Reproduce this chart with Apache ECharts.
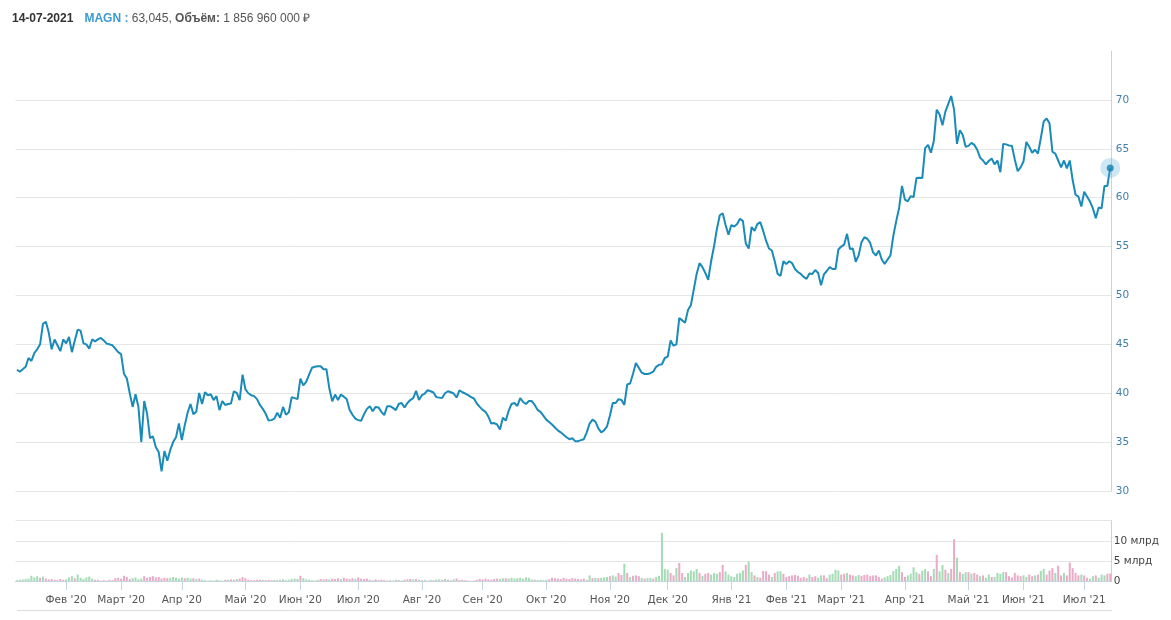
<!DOCTYPE html>
<html><head><meta charset="utf-8">
<script src="https://cdn.jsdelivr.net/npm/echarts@6/dist/echarts.min.js"></script>
<style>html,body{margin:0;padding:0;background:#fff}#c{width:1171px;height:620px}</style>
</head><body><div id="c"></div>
<script>
// ---------- data ----------
const headerDate = '14-07-2021';
const ticker = 'MAGN';
const volumeWord = 'Объём:';
const currency = '₽';
const volUnit = 'млрд';
const monthNames = ['Янв','Фев','Март','Апр','Май','Июн','Июл','Авг','Сен','Окт','Ноя','Дек'];
const lastDay = '2021-07-14';
const holidays = ['2020-01-01','2020-01-02','2020-01-07','2020-02-24','2020-03-09','2020-05-01','2020-05-11',
  '2020-06-12','2020-06-24','2020-07-01','2020-11-04','2020-12-31','2021-01-01','2021-01-07','2021-02-23',
  '2021-03-08','2021-05-03','2021-05-10','2021-06-14'];
const priceTicks = [30,35,40,45,50,55,60,65,70];
const volumeTicks = [0,5,10];

// close price, ₽
const prices = [
42.4,42.2,42.45,42.7,43.6,43.3,44.1,44.5,45.0,47.1,
47.3,46.2,44.5,45.5,44.9,44.3,45.5,45.1,45.75,44.2,
45.4,46.5,46.4,45.1,45.0,44.56,45.5,45.3,45.5,45.65,
45.4,45.07,45.0,44.9,44.56,44.2,44.0,42.0,41.5,40.0,
38.6,39.9,38.6,35.0,39.2,37.9,35.4,35.6,34.5,34.0,
32.0,34.1,33.1,34.2,35.0,35.5,36.9,35.2,36.7,38.0,
38.9,37.86,38.1,40.03,38.9,40.1,39.8,39.9,39.3,39.7,
38.27,39.2,38.8,38.9,38.95,40.2,40.03,39.3,41.9,40.4,
40.0,39.8,39.7,39.4,38.8,38.4,37.9,37.2,37.25,37.4,
38.0,37.5,38.6,37.8,38.06,39.6,39.5,39.4,
41.5,40.8,41.16,41.9,42.6,42.7,42.76,42.76,42.45,42.45,
40.5,39.18,39.86,39.3,39.86,39.65,39.4,38.3,37.8,37.4,
37.25,37.18,37.86,38.4,38.67,38.16,38.6,38.55,38.1,37.76,
38.67,38.67,38.5,38.27,38.9,39.0,38.54,39.0,39.3,39.5,
40.24,39.3,39.8,39.97,40.3,40.2,40.07,39.6,39.55,39.5,
40.0,40.2,40.1,39.97,39.56,40.3,40.1,39.97,39.8,39.6,
39.46,38.95,38.6,38.3,38.1,37.6,36.9,36.95,36.8,36.3,
37.5,37.2,38.2,38.9,39.0,38.7,39.5,39.1,38.9,39.2,
39.2,38.8,38.3,38.1,37.7,37.3,37.05,36.8,36.5,36.2,
36.0,35.75,35.5,35.3,35.4,35.1,35.1,35.2,35.3,36.0,
36.9,37.3,37.1,36.4,36.0,36.2,36.6,37.7,39.0,39.0,
39.4,39.3,38.8,40.9,41.0,42.0,43.1,42.6,42.1,41.97,
41.97,42.05,42.2,42.7,42.9,42.96,43.6,43.74,45.4,44.86,
45.0,47.7,47.45,47.2,48.5,49.0,50.6,52.2,53.3,52.9,
52.3,51.6,53.5,55.0,56.8,58.2,58.4,57.2,56.2,57.2,
57.05,57.3,57.85,57.6,55.3,54.8,57.0,56.6,57.3,57.5,
56.6,55.6,54.8,54.6,53.5,52.2,52.0,53.5,53.2,53.5,
53.3,52.7,52.4,52.2,51.9,51.7,52.25,52.2,52.6,52.3,
51.05,52.15,52.5,52.9,52.7,52.7,54.7,55.0,55.2,56.3,
54.75,54.8,53.45,54.1,55.45,55.95,55.8,55.37,54.4,54.08,
54.6,53.67,53.23,53.67,54.1,56.1,57.6,58.95,61.2,59.8,
59.63,60.15,60.07,62.0,62.04,62.0,65.07,65.4,64.6,65.8,
69.0,68.5,67.4,68.8,69.6,70.4,69.0,65.5,66.9,66.4,
65.2,65.3,65.6,65.4,64.9,64.1,63.8,63.4,63.75,64.0,
63.4,63.8,62.6,65.5,65.45,65.34,65.3,63.9,62.7,63.1,
63.7,65.7,65.2,64.6,64.9,64.5,66.1,67.8,68.1,67.6,
64.7,64.5,63.8,63.1,63.8,63.0,63.8,61.8,60.3,60.1,
59.1,60.6,60.1,59.6,58.9,57.9,59.0,58.9,61.2,61.2,
63.045
];

// volume, млрд ₽
const volumes = [
0.2,0.3,0.4,0.5,0.6,1.3,0.9,1.2,0.8,1.1,
0.6,0.4,0.5,0.3,0.2,0.5,0.3,0.4,0.9,1.2,
0.7,1.6,0.8,0.5,0.9,1.1,0.6,0.3,0.3,0.1,
0.2,0.1,0.3,0.2,0.7,0.8,0.6,1.3,1.0,0.5,
0.7,0.9,0.4,0.6,1.2,0.8,1.0,1.2,0.9,1.0,
0.6,0.8,0.7,0.8,1.0,0.8,0.6,0.9,0.7,0.8,
0.6,0.7,0.5,0.6,0.3,0.2,0.1,0.2,0.1,0.3,
0.2,0.1,0.3,0.3,0.4,0.3,0.5,0.6,1.0,0.7,
0.3,0.2,0.2,0.3,0.3,0.3,0.2,0.3,0.2,0.3,
0.2,0.3,0.4,0.2,0.3,0.5,0.6,0.5,1.3,0.7,
0.4,0.3,0.2,0.1,0.3,0.5,0.4,0.5,0.4,0.6,
0.5,0.7,0.5,0.8,0.6,0.5,0.7,0.5,0.9,0.6,
0.5,0.6,0.3,0.2,0.4,0.2,0.3,0.2,
0.1,0.2,0.1,0.3,0.2,0.1,0.3,0.4,0.5,0.4,
0.5,0.3,0.2,0.3,0.1,0.3,0.2,0.4,0.4,0.3,
0.5,0.3,0.2,0.4,0.6,0.2,0.3,0.2,0.1,0.05,
0.1,0.3,0.5,0.4,0.6,0.4,0.3,0.5,0.6,0.5,
0.7,0.7,0.6,0.8,0.6,0.7,0.8,0.6,0.9,0.8,
0.4,0.3,0.2,0.3,0.2,0.3,0.4,0.8,0.7,0.6,
0.5,0.8,0.6,0.5,0.7,0.6,0.5,0.4,0.6,0.3,
1.4,0.7,0.8,0.7,0.8,0.9,1.0,1.2,1.4,1.1,
2.0,1.5,4.3,2.0,1.0,1.3,1.4,1.2,0.8,0.6,
0.7,0.8,0.6,1.0,1.3,12.0,3.0,2.8,2.0,1.4,
3.2,4.5,2.0,1.0,2.0,2.6,2.4,3.0,2.0,1.3,
1.8,2.0,1.6,2.0,1.8,2.2,4.0,2.4,1.6,1.2,
1.0,1.8,2.0,2.6,4.0,4.8,2.2,1.4,
1.0,0.8,2.5,2.4,1.6,1.0,2.0,2.4,2.4,1.8,
1.0,1.2,1.4,1.5,1.3,0.8,1.0,0.7,1.6,1.0,
1.2,0.8,1.4,1.4,0.7,1.6,1.8,2.8,2.6,1.6,
1.8,2.0,1.6,1.4,1.2,1.5,1.3,1.5,1.6,1.2,
1.4,1.4,1.0,0.6,0.9,1.2,1.5,2.5,3.0,3.8,
2.2,1.0,1.4,1.8,3.4,2.2,1.8,2.6,3.0,2.4,
1.2,3.0,6.5,2.4,4.0,2.8,2.0,3.0,10.4,5.8,
2.2,1.8,2.2,2.2,1.8,2.0,1.6,1.2,1.4,0.8,
1.6,1.0,1.0,2.0,1.8,2.2,2.2,1.2,0.9,2.0,
1.4,1.2,1.4,1.0,1.6,1.2,1.4,1.6,2.5,3.0,
1.6,2.6,3.2,2.0,3.8,1.4,2.0,1.4,4.6,3.2,
2.0,1.4,1.6,1.4,0.8,0.6,1.2,1.4,0.8,1.6,
1.4,1.8,1.85696
];

// day direction of each volume bar: g = up (green), p = down (pink)
const barDirs =
 'ggggggggpg' + 'ppppppp' + 'gggpggggggp' + 'pppppp' + 'pppppp' + 'gggg' + 'ppppppppp' + 'gggg' +
 'gpggpgp' + 'ggggggg' + 'gpgppgp' + 'pp' + 'pppppgpppgp' + 'ggggggg' + 'p' + 'gggggg' +
 'pppgpppgppppgpppppgpppp' +
 'pgpgpgp' + 'ppgpgpgpgpggpgpg' + 'gpppppp' + 'ppppppppp' + 'ggpgggggggg' + 'gpggggp' +
 'ppppppppppp' + 'pg' + 'g' + 'pgpgggpgg' +
 'ppgpgpppgp' + 'ggpgggggpp' + 'gppgggggpg' + 'ppgggppggg' + 'ggggpggp' +
 'gppppgpggp' + 'ppppppppgp' + 'pggppggggp' + 'pgppggpppp' + 'ppppgggggg' + 'ppggggpggp' +
 'pgpggpgppg' + 'pggpgppgpg' + 'gpggggpppp' + 'ppggppgpgg' + 'pppgppgppp' + 'ppgppggpgg' + 'gpp';

// ---------- categories (trading days) ----------
function tradingDays(startStr, endStr, hol) {
  const out = [];
  const d = new Date(startStr + 'T00:00:00Z');
  const end = new Date(endStr + 'T00:00:00Z');
  while (d <= end) {
    const wd = d.getUTCDay();
    const s = d.toISOString().slice(0, 10);
    if (wd !== 0 && wd !== 6 && hol.indexOf(s) < 0) out.push(s);
    d.setUTCDate(d.getUTCDate() + 1);
  }
  return out;
}
const allDays = tradingDays('2020-01-01', lastDay, holidays);
const N = prices.length;
const dates = allDays.slice(allDays.length - N);

const monthStart = (idx) => idx > 0 && dates[idx].slice(5, 7) !== dates[idx - 1].slice(5, 7);
const monthLabel = (v) => monthNames[+v.slice(5, 7) - 1] + " '" + v.slice(2, 4);

const lastPrice = prices[N - 1];
const lastVol = volumes[volumes.length - 1];
const fmtPrice = lastPrice.toFixed(3).replace('.', ',');
const fmtVol = String(Math.round(lastVol * 1e9)).replace(/\B(?=(\d{3})+(?!\d))/g, ' ');

const GREEN = '#a4dcb6', PINK = '#e9abc7';
const AXIS = '#c6d4de', GRID = '#e6e6e6';
const FONT = 'Liberation Sans';
const AXFONT = 'DejaVu Sans';

const chart = echarts.init(document.getElementById('c'), null, {renderer: 'canvas'});
chart.setOption({
  animation: false,
  backgroundColor: '#fff',
  title: {
    left: 12, top: 13, padding: 0,
    text: '{d|' + headerDate + '}{g| }{t|' + ticker + ' :}{v| ' + fmtPrice + ', }{b|' + volumeWord + '}{v| ' + fmtVol + ' ' + currency + '}',
    textStyle: {
      fontFamily: FONT, fontSize: 12, fontWeight: 'normal',
      rich: {
        d: {fontFamily: FONT, fontSize: 12, fontWeight: 'bold', color: '#333'},
        g: {width: 11},
        t: {fontFamily: FONT, fontSize: 12, fontWeight: 'bold', color: '#3d9ad2'},
        v: {fontFamily: FONT, fontSize: 12, fontWeight: 'normal', color: '#555'},
        b: {fontFamily: FONT, fontSize: 12, fontWeight: 'bold', color: '#555'}
      }
    }
  },
  grid: [
    {left: 15.5, right: 59.3, top: 51, bottom: 129},
    {left: 15.5, right: 59.3, top: 520.7, bottom: 39}
  ],
  xAxis: [
    {gridIndex: 0, type: 'category', data: dates, boundaryGap: true, show: false},
    {gridIndex: 1, type: 'category', data: dates, boundaryGap: true, offset: 5,
      axisLine: {show: true, lineStyle: {color: AXIS}},
      axisTick: {show: true, alignWithLabel: true, interval: monthStart, length: 9, lineStyle: {color: AXIS}},
      axisLabel: {interval: monthStart, formatter: monthLabel, color: '#555', fontFamily: AXFONT, fontSize: 10.5, margin: 9},
      splitLine: {show: false}}
  ],
  yAxis: [
    {gridIndex: 0, type: 'value', position: 'right', min: priceTicks[0], max: 75, interval: 5,
      axisLine: {show: true, lineStyle: {color: AXIS}}, axisTick: {show: false},
      axisLabel: {showMaxLabel: false, color: '#3f7fa8', fontFamily: AXFONT, fontSize: 10.5, margin: 4},
      splitLine: {show: true, showMaxLine: false, lineStyle: {color: GRID}}},
    {gridIndex: 1, type: 'value', position: 'right', min: volumeTicks[0], max: 15, interval: 5,
      axisLine: {show: true, lineStyle: {color: AXIS}}, axisTick: {show: false},
      axisLabel: {showMaxLabel: false, color: '#444', fontFamily: AXFONT, fontSize: 10.5, margin: 2,
        formatter: (v) => v === 0 ? '0' : v + ' ' + volUnit},
      splitLine: {show: true, lineStyle: {color: GRID}}}
  ],
  graphic: [
    {type: 'line', shape: {x1: 17, y1: 610.5, x2: 1112, y2: 610.5}, style: {stroke: '#dcdcdc', lineWidth: 1}}
  ],
  series: [
    {type: 'bar', xAxisIndex: 1, yAxisIndex: 1, barCategoryGap: '30%',
      data: volumes.map((v, i) => ({value: v, itemStyle: {color: barDirs[i] === 'p' ? PINK : GREEN}}))},
    {type: 'line', xAxisIndex: 0, yAxisIndex: 0, data: prices, symbol: 'none',
      lineStyle: {color: '#1a8bb8', width: 2}, z: 3},
    {type: 'scatter', xAxisIndex: 0, yAxisIndex: 0, data: [[dates[N - 1], lastPrice]], symbolSize: 20,
      itemStyle: {color: 'rgba(80,170,215,0.35)'}, z: 4, silent: true},
    {type: 'scatter', xAxisIndex: 0, yAxisIndex: 0, data: [[dates[N - 1], lastPrice]], symbolSize: 7,
      itemStyle: {color: '#1681b0'}, z: 5, silent: true}
  ]
});
</script>
</body></html>
